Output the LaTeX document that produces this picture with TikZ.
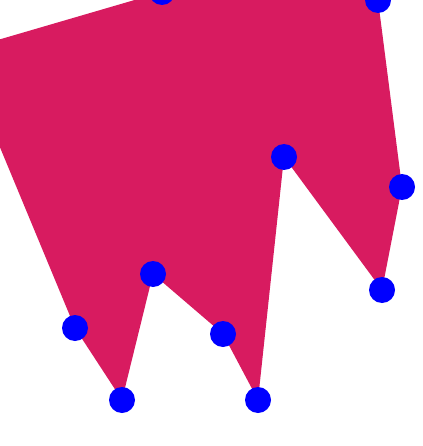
\documentclass[tikz,border=0pt]{standalone}
\definecolor{crim}{RGB}{216,27,96}
\begin{document}
\begin{tikzpicture}[x=1pt,y=-1pt,
  dot/.style={circle,fill=blue,draw=none,minimum size=26pt,inner sep=0pt}]
\useasboundingbox (0,0) rectangle (422,446);
\clip (0,0) rectangle (422,446);
\coordinate (p0) at (-40,51);
\coordinate (p1) at (162,-8);
\coordinate (p2) at (378,0);
\coordinate (p3) at (402,187);
\coordinate (p4) at (382,290);
\coordinate (p5) at (284,157);
\coordinate (p6) at (258,400);
\coordinate (p7) at (223,334);
\coordinate (p8) at (153,274);
\coordinate (p9) at (122,400);
\coordinate (p10) at (75,328);
\fill[crim] (p0) -- (p1) -- (p2) -- (p3) -- (p4) -- (p5) -- (p6) -- (p7) -- (p8) -- (p9) -- (p10) -- cycle;
\foreach \i in {0,...,10} \node[dot] (d\i) at (p\i) {};
\end{tikzpicture}
\end{document}
